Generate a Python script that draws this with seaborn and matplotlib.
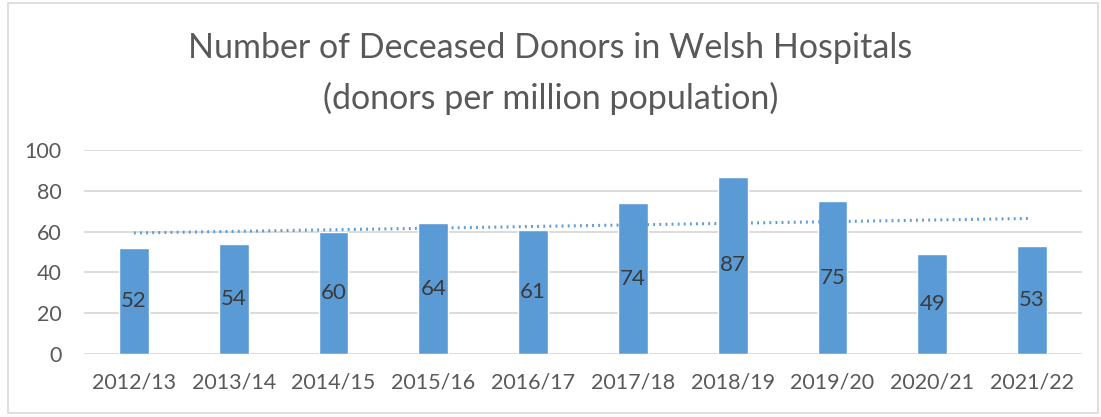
import numpy as np
import pandas as pd
import matplotlib.pyplot as plt
import seaborn as sns
from matplotlib.patches import Rectangle

# data
years = ['2012/13', '2013/14', '2014/15', '2015/16', '2016/17',
         '2017/18', '2018/19', '2019/20', '2020/21', '2021/22']
donors_pmp = [52, 54, 60, 64, 61, 74, 87, 75, 49, 53]

df = pd.DataFrame({'year': years, 'pmp': donors_pmp})

sns.set_theme(style="white")
plt.rcParams['font.family'] = ['Lato', 'DejaVu Sans']

bar_blue = '#5B9BD5'
text_grey = '#595959'
grid_grey = '#D9D9D9'

fig = plt.figure(figsize=(11.01, 4.17), dpi=100)
ax = fig.add_axes([84 / 1101, (417 - 354) / 417, 998 / 1101, 204 / 417])

sns.barplot(data=df, x='year', y='pmp', color=bar_blue, width=0.3,
            saturation=1, ax=ax, zorder=2)

# linear trendline, dotted
xs = np.arange(len(years))
slope, icpt = np.polyfit(xs, donors_pmp, 1)
ax.plot(xs, slope * xs + icpt, linestyle=(0, (0.6, 1.4)), color=bar_blue,
        linewidth=2.2, zorder=3)

# value labels in the middle of each bar
for i, v in enumerate(donors_pmp):
    ax.text(i, v / 2, str(v), ha='center', va='center', fontsize=16,
            color='#3A3A3A', zorder=4)

ax.set_xlim(-0.5, len(years) - 0.5)
ax.set_ylim(0, 100)
ax.set_yticks(range(0, 101, 20))
ax.yaxis.grid(True, color=grid_grey, linewidth=1.3, zorder=0)
ax.set_axisbelow(True)
for s in ax.spines.values():
    s.set_visible(False)
ax.set_xlabel('')
ax.set_ylabel('')
ax.tick_params(axis='both', length=0, labelsize=15.5, labelcolor=text_grey)
ax.tick_params(axis='x', pad=13)
ax.tick_params(axis='y', pad=16)

fig.text(0.5, 1 - 48 / 417, 'Number of Deceased Donors in Welsh Hospitals',
         ha='center', va='center', fontsize=24.5, color=text_grey)
fig.text(0.5, 1 - 98 / 417, '(donors per million population)',
         ha='center', va='center', fontsize=24.5, color=text_grey)

# outer frame of the chart
fig.patches.append(Rectangle((8 / 1101, 4 / 417), 1090 / 1101, 410 / 417,
                             transform=fig.transFigure, fill=False,
                             edgecolor='#D9D9D9', linewidth=1.2))

fig.savefig('out.png', dpi=100)
